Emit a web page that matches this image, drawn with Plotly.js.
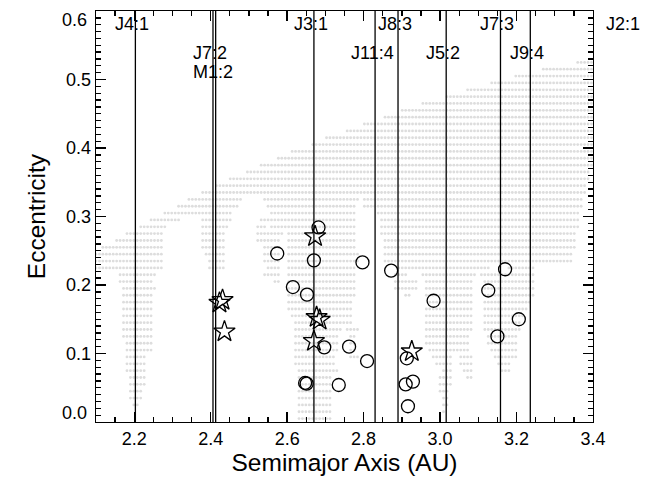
<!DOCTYPE html>
<html><head><meta charset="utf-8">
<script src="https://cdn.plot.ly/plotly-3.0.1.min.js"></script>
<style>html,body{margin:0;padding:0;background:#fff;}#plot{width:652px;height:489px;}</style>
</head><body><div id="plot"></div>
<script>
// ---- Resonance locations (AU) ----
const resNames = ['J4:1','J7:2','M1:2','J3:1','J11:4','J8:3','J5:2','J7:3','J9:4','J2:1'];
const resA     = [2.203, 2.406, 2.413, 2.670, 2.830, 2.890, 3.016, 3.158, 3.236, 3.486];

// ---- Observed objects ----
const circleA = [2.682,2.574,2.670,2.797,2.872,2.615,2.652,2.697,2.762,2.809,2.647,2.651,2.735,2.983,2.913,2.910,2.929,2.916,3.170,3.126,3.206,3.150];
const circleE = [0.284,0.246,0.236,0.233,0.221,0.197,0.186,0.109,0.110,0.089,0.057,0.056,0.054,0.177,0.093,0.055,0.059,0.023,0.223,0.192,0.150,0.125];
const starA = [2.673,2.677,2.685,2.670,2.926,2.423,2.431,2.436];
const starE = [0.271,0.153,0.149,0.118,0.103,0.174,0.178,0.132];

// ---- Y tick labels ----
const yTickVals = [0.0, 0.1, 0.2, 0.3, 0.4, 0.5, 0.6];
const yTickText = ['0.0', '0.1', '0.2', '0.3', '0.4', '0.5', '0.6'];

// ---- Stable-region grid: eccentricity rows and semimajor-axis intervals ----
const gridA0 = 2.1, gridStepA = 0.009;
const rowE = [0.525,0.515,0.505,0.495,0.485,0.475,0.465,0.455,0.445,0.435,0.425,0.415,0.405,0.395,0.385,0.375,0.365,0.355,0.345,0.335,
              0.325,0.315,0.305,0.295,0.285,0.275,0.265,0.255,0.245,0.235,0.225,0.215,0.205,0.195,0.185,0.175,0.165,0.155,0.145,0.135,
              0.125,0.115,0.105,0.095,0.085,0.075,0.065,0.055,0.045,0.035,0.025,0.015,0.005];
const rowSegs = [
 [[3.347,3.347],[3.363,3.395]],
 [[3.267,3.395]],
 [[3.195,3.395]],
 [[3.136,3.395]],
 [[3.074,3.395]],
 [[3.013,3.395]],
 [[2.952,3.395]],
 [[2.904,3.395]],
 [[2.855,3.395]],
 [[2.804,3.395]],
 [[2.752,3.395]],
 [[2.704,3.395]],
 [[2.664,3.395]],
 [[2.616,3.395]],
 [[2.573,3.395]],
 [[2.534,3.395]],
 [[2.492,3.39]],
 [[2.451,3.39]],
 [[2.414,3.38]],
 [[2.381,3.38]],
 [[2.341,2.481],[2.542,2.786],[2.804,3.37]],
 [[2.313,2.468],[2.551,2.78],[2.804,3.37]],
 [[2.283,2.451],[2.555,2.78],[2.84,3.36]],
 [[2.242,2.28],[2.292,2.32],[2.382,2.449],[2.53,2.778],[2.843,3.36]],
 [[2.212,2.28],[2.382,2.44],[2.524,2.542],[2.555,2.778],[2.843,3.36]],
 [[2.181,2.27],[2.382,2.431],[2.524,2.586],[2.603,2.778],[2.847,3.35]],
 [[2.15,2.27],[2.382,2.431],[2.524,2.577],[2.603,2.778],[2.852,3.35]],
 [[2.12,2.27],[2.382,2.431],[2.542,2.577],[2.603,2.778],[2.852,3.35]],
 [[2.10,2.27],[2.39,2.431],[2.542,2.577],[2.603,2.786],[2.856,3.34]],
 [[2.10,2.27],[2.399,2.431],[2.542,2.577],[2.603,2.786],[2.856,3.34]],
 [[2.10,2.27],[2.399,2.431],[2.547,2.577],[2.603,2.778],[2.887,3.123],[3.175,3.24]],
 [[2.159,2.251],[2.542,2.577],[2.603,2.773],[2.882,2.913],[2.952,3.087],[3.105,3.245]],
 [[2.159,2.242],[2.568,2.577],[2.603,2.773],[2.882,2.939],[2.965,3.083],[3.114,3.245]],
 [[2.172,2.251],[2.603,2.773],[2.882,2.939],[2.965,3.079],[3.114,3.245]],
 [[2.172,2.242],[2.603,2.773],[2.913,2.922],[2.965,3.079],[3.114,3.245]],
 [[2.172,2.242],[2.603,2.77],[2.97,3.079],[3.114,3.236]],
 [[2.172,2.242],[2.603,2.77],[2.965,3.079],[3.114,3.227]],
 [[2.172,2.242],[2.612,2.769],[2.965,3.079],[3.114,3.218]],
 [[2.172,2.242],[2.621,2.769],[2.965,3.079],[3.114,3.21]],
 [[2.172,2.242],[2.625,2.738],[2.76,2.782],[2.965,3.079],[3.114,3.21]],
 [[2.172,2.242],[2.625,2.734],[2.765,2.778],[2.965,3.074],[3.123,3.201]],
 [[2.181,2.242],[2.625,2.73],[2.765,2.778],[2.965,3.074],[3.127,3.201]],
 [[2.181,2.242],[2.625,2.73],[2.769,2.778],[2.974,3.074],[3.136,3.201]],
 [[2.181,2.229],[2.625,2.725],[2.769,2.782],[2.983,3.026],[3.053,3.079],[3.14,3.201],[3.338,3.338]],
 [[2.181,2.229],[2.625,2.725],[2.992,3.026],[3.057,3.079],[3.149,3.183],[3.338,3.338]],
 [[2.181,2.229],[2.629,2.73],[3.005,3.026],[3.066,3.079],[3.157,3.183],[3.338,3.338]],
 [[2.19,2.229],[2.634,2.717],[3.0,3.026],[3.07,3.079],[3.338,3.338]],
 [[2.19,2.229],[2.634,2.712],[3.0,3.026],[3.338,3.338]],
 [[2.19,2.22],[2.634,2.712],[3.0,3.018],[3.338,3.338]],
 [[2.19,2.22],[2.634,2.712],[3.005,3.018],[3.338,3.338]],
 [[2.197,2.206],[2.634,2.712],[3.005,3.018],[3.338,3.338]],
 [[2.634,2.712],[3.005,3.013],[3.338,3.338]],
 [[2.634,2.712],[3.338,3.338]]
];

// ---- build grid points from the intervals ----
const dotA = [], dotE = [];
rowE.forEach((e, r) => {
  rowSegs[r].forEach(([a0, a1]) => {
    const i0 = Math.ceil((a0 - 0.4*gridStepA - gridA0)/gridStepA - 1e-9);
    const i1 = Math.floor((a1 + 0.4*gridStepA - gridA0)/gridStepA + 1e-9);
    for (let i = i0; i <= i1; i++) { dotA.push(+(gridA0 + i*gridStepA).toFixed(4)); dotE.push(e); }
  });
});

const xRange = [2.1, 3.4];
const yRange = [0.0, 0.6];
const FONT = 'Liberation Sans, Arial, Helvetica, sans-serif';
const TICKSIZE = 18, TITLESIZE = 24.5;

const traces = [
  {x: dotA, y: dotE, type: 'scatter', mode: 'markers', hoverinfo: 'skip',
   marker: {size: 2.8, color: '#dddddd', line: {width: 0}}},
  {x: circleA, y: circleE, type: 'scatter', mode: 'markers',
   marker: {symbol: 'circle-open', size: 13, color: 'black', line: {width: 1.3, color: 'black'}}},
  {x: starA, y: starE, type: 'scatter', mode: 'markers',
   marker: {symbol: 'star-open', size: 16, color: 'black', line: {width: 1.3, color: 'black'}}}
];

const labelRow = [1, 2, 3, 1, 2, 1, 2, 1, 2, 1];
const rowY = {1: 0.968, 2: 0.898, 3: 0.852};
const shapes = [], annotations = [];
resA.forEach((a, i) => {
  if (a > xRange[0] && a < xRange[1]) {
    shapes.push({type: 'line', xref: 'x', yref: 'paper', x0: a, x1: a, y0: 0, y1: 1,
                 line: {color: 'black', width: 1.3}, layer: 'above'});
  }
  const px = (a - xRange[0]) / (xRange[1] - xRange[0]);
  annotations.push({xref: 'paper', yref: 'paper', x: px, y: rowY[labelRow[i]], xshift: -3,
                    text: resNames[i], showarrow: false, xanchor: 'center', yanchor: 'middle',
                    font: {family: FONT, size: TICKSIZE, color: 'black'}});
});

// end labels of the y axis sit just inside the frame
const yTickShown = yTickText.map((t, i) => (yTickVals[i] <= yRange[0] || yTickVals[i] >= yRange[1]) ? '' : t);
yTickVals.forEach((v, i) => {
  if (v <= yRange[0] || v >= yRange[1]) {
    annotations.push({xref: 'paper', yref: 'y', x: 0, y: v, xanchor: 'right', yanchor: 'middle',
                      xshift: -7, yshift: v <= yRange[0] ? 9 : -9, showarrow: false, text: yTickText[i],
                      font: {family: FONT, size: TICKSIZE, color: 'black'}});
  }
});

const axisCommon = {
  ticks: 'inside', ticklen: 10, tickwidth: 1.3, tickcolor: 'black',
  mirror: 'allticks', showline: true, linecolor: 'black', linewidth: 1.3,
  showgrid: false, zeroline: false,
  tickfont: {family: FONT, size: TICKSIZE, color: 'black'}, automargin: false
};

const layout = {
  width: 652, height: 489, margin: {l: 96, r: 59, t: 11, b: 67},
  paper_bgcolor: 'white', plot_bgcolor: 'white', showlegend: false,
  font: {family: FONT, color: 'black'},
  xaxis: Object.assign({}, axisCommon, {range: xRange, tick0: 2.2, dtick: 0.2, tickformat: '.1f',
    minor: {tick0: 2.2, dtick: 0.05, ticks: 'inside', ticklen: 5, tickwidth: 1.3, tickcolor: 'black'},
    title: {text: 'Semimajor Axis (AU)', font: {family: FONT, size: TITLESIZE, color: 'black'}, standoff: 5}}),
  yaxis: Object.assign({}, axisCommon, {range: yRange, tickmode: 'array', tickvals: yTickVals, ticktext: yTickShown,
    minor: {tick0: 0, dtick: 0.01, ticks: 'inside', ticklen: 5, tickwidth: 1.3, tickcolor: 'black'},
    title: {text: 'Eccentricity', font: {family: FONT, size: TITLESIZE, color: 'black'}, standoff: 13}}),
  shapes: shapes, annotations: annotations
};

Plotly.newPlot('plot', traces, layout, {displayModeBar: false, staticPlot: true});
</script>
</body></html>
